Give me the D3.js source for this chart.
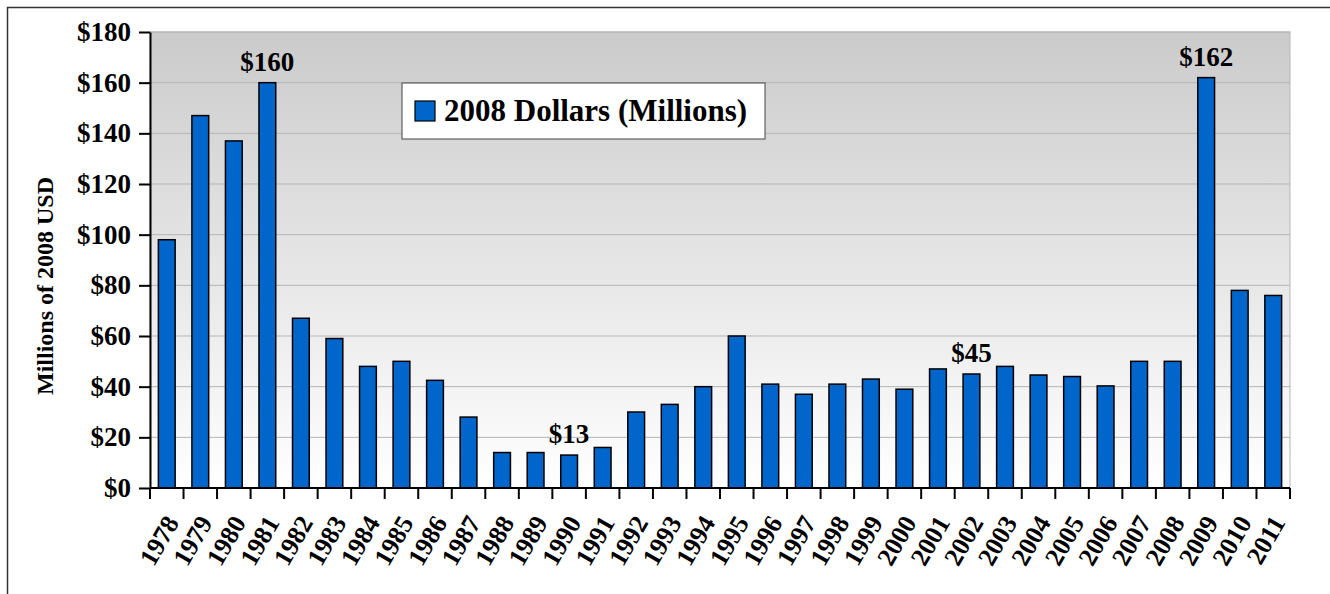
<!DOCTYPE html>
<html>
<head>
<meta charset="utf-8">
<script src="https://cdn.jsdelivr.net/npm/d3@7"></script>
<style>
  body { margin: 0; background: #fff; }
  text { font-family: "Liberation Serif", "Times New Roman", serif; font-weight: bold; }
</style>
</head>
<body>
<svg id="chart"></svg>
<script>
let years = ["1978", "1979", "1980", "1981", "1982", "1983", "1984", "1985", "1986", "1987",
    "1988", "1989", "1990", "1991", "1992", "1993", "1994", "1995", "1996", "1997",
    "1998", "1999", "2000", "2001", "2002", "2003", "2004", "2005", "2006", "2007",
    "2008", "2009", "2010", "2011"];
let dollars = [98, 147, 137, 160, 67, 59, 48, 50, 42.5, 28,
    14, 14, 13, 16, 30, 33, 40, 60, 41, 37,
    41, 43, 39, 47, 45, 48, 44.6, 44, 40.3, 50,
    50, 162, 78, 76];
let yTicks = [0, 20, 40, 60, 80, 100, 120, 140, 160, 180];
let callouts = [
    {year: "1981", text: "$160"},
    {year: "1990", text: "$13"},
    {year: "2002", text: "$45"},
    {year: "2009", text: "$162"}
];
let seriesName = "2008 Dollars (Millions)";

let W = 1330, H = 594;
let margin = {top: 32, right: 40, bottom: 106, left: 150},
    width = W - margin.left - margin.right,
    height = H - margin.top - margin.bottom;

let root = d3.select("#chart").attr("width", W).attr("height", H);

// outer frame
root.append("rect")
    .attr("x", 7.5).attr("y", 7.5)
    .attr("width", W + 10).attr("height", H + 10)
    .attr("fill", "none").attr("stroke", "#333").attr("stroke-width", 1.5);

let defs = root.append("defs");
let grad = defs.append("linearGradient")
    .attr("id", "bg").attr("x1", "0%").attr("y1", "0%").attr("x2", "0%").attr("y2", "100%");
grad.append("stop").attr("offset", "0%").attr("stop-color", "#cbcbcb");
grad.append("stop").attr("offset", "100%").attr("stop-color", "#ffffff");

let svg = root.append("g")
    .attr("transform", "translate(" + margin.left + "," + margin.top + ")");

svg.append("rect")
    .attr("width", width).attr("height", height)
    .attr("fill", "url(#bg)")
    .attr("stroke", "#b5b5b5").attr("stroke-width", 1);

let x = d3.scaleBand()
    .range([0, width])
    .domain(years)
    .paddingInner(0.5)
    .paddingOuter(0.25);

let y = d3.scaleLinear()
    .range([height, 0])
    .domain([0, 180]);

// grid
svg.append("g")
    .selectAll("line")
    .data(yTicks.slice(1))
    .enter()
    .append("line")
    .attr("x1", 0).attr("x2", width)
    .attr("y1", d => y(d)).attr("y2", d => y(d))
    .attr("stroke", "#b5b5b5").attr("stroke-width", 1);

// bars
svg.selectAll(".bar")
    .data(years)
    .enter()
    .append("rect")
    .attr("class", "bar")
    .attr("x", d => x(d))
    .attr("y", (d, i) => y(dollars[i]))
    .attr("width", x.bandwidth())
    .attr("height", (d, i) => height - y(dollars[i]))
    .attr("fill", "#0066cc")
    .attr("stroke", "#000")
    .attr("stroke-width", 1.5);

// y axis
let yAxis = svg.append("g")
    .call(d3.axisLeft(y).tickValues(yTicks).tickFormat(d => "$" + d).tickSize(11).tickSizeOuter(0));
yAxis.select(".domain").attr("stroke", "#000").attr("stroke-width", 2);
yAxis.selectAll(".tick line").attr("stroke", "#000").attr("stroke-width", 2);
yAxis.selectAll(".tick text")
    .attr("x", -19)
    .style("font-size", "27px")
    .style("font-family", "Liberation Serif")
    .style("font-weight", "bold")
    .attr("fill", "#000");

// x axis: ticks on category boundaries
let boundaries = d3.range(years.length + 1).map(i => i * width / years.length);
let xg = svg.append("g").attr("transform", "translate(0," + height + ")");
xg.append("line")
    .attr("x1", 0).attr("x2", width)
    .attr("stroke", "#000").attr("stroke-width", 2);
xg.selectAll(".xt")
    .data(boundaries)
    .enter()
    .append("line")
    .attr("x1", d => d).attr("x2", d => d)
    .attr("y1", 0).attr("y2", 11)
    .attr("stroke", "#000").attr("stroke-width", 2);
xg.selectAll(".xl")
    .data(years)
    .enter()
    .append("text")
    .attr("transform", d => "translate(" + (x(d) + x.bandwidth() / 2 + 5) + ",30) rotate(-60)")
    .attr("text-anchor", "end")
    .attr("dy", "0.35em")
    .style("font-size", "26px")
    .text(d => d);

// callouts
svg.selectAll(".callout")
    .data(callouts)
    .enter()
    .append("text")
    .attr("x", d => x(d.year) + x.bandwidth() / 2)
    .attr("y", d => y(dollars[years.indexOf(d.year)]) - 12)
    .attr("text-anchor", "middle")
    .style("font-size", "27px")
    .text(d => d.text);

// y title
root.append("text")
    .attr("transform", "translate(45,286) rotate(-90)")
    .attr("text-anchor", "middle")
    .attr("dy", "0.35em")
    .style("font-size", "24px")
    .text("Millions of 2008 USD");

// legend
let lg = root.append("g").attr("transform", "translate(402,83)");
lg.append("rect")
    .attr("width", 363).attr("height", 56)
    .attr("fill", "#fff").attr("stroke", "#444").attr("stroke-width", 1);
lg.append("rect")
    .attr("x", 13).attr("y", 18).attr("width", 20).attr("height", 20)
    .attr("fill", "#0066cc").attr("stroke", "#000").attr("stroke-width", 1.2);
lg.append("text")
    .attr("x", 42).attr("y", 38)
    .style("font-size", "31px")
    .text(seriesName);
</script>
</body>
</html>
